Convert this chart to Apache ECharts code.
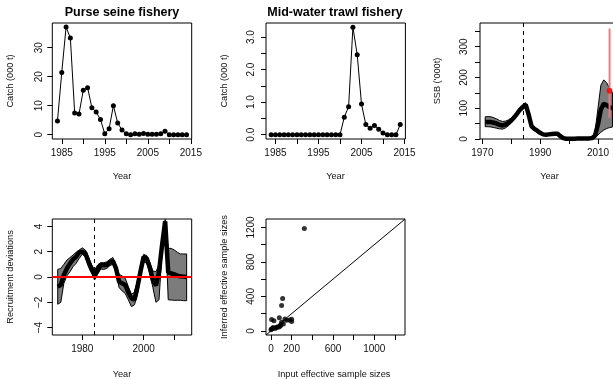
<!DOCTYPE html>
<html><head><meta charset="utf-8">
<script src="https://cdn.jsdelivr.net/npm/echarts@6/dist/echarts.min.js"></script>
<style>html,body{margin:0;padding:0;background:#fff}#c{width:613px;height:379px}</style>
</head><body><div id="c"></div>
<script>
// ---------- data ----------
const catchYears = [1984,1985,1986,1987,1988,1989,1990,1991,1992,1993,1994,1995,1996,1997,1998,1999,2000,2001,2002,2003,2004,2005,2006,2007,2008,2009,2010,2011,2012,2013,2014];
const purseSeine = [4.7,21.4,37.1,33.3,7.5,7.1,15.3,16.2,9.3,7.8,5.2,0.3,2.0,10.0,4.0,1.6,0.3,0.0,0.3,0.1,0.4,0.1,0.1,0.1,0.3,1.2,0,0,0,0,0];
const midWater = [0,0,0,0,0,0,0,0,0,0,0,0,0,0,0,0,0,0.54,0.86,3.30,2.46,0.94,0.31,0.20,0.28,0.17,0.05,0,0,0,0.31];

const ssbYears = [1971,1972,1973,1974,1975,1976,1977,1978,1979,1980,1981,1982,1983,1984,1985,1986,1987,1988,1989,1990,1991,1992,1993,1994,1995,1996,1997,1998,1999,2000,2001,2002,2003,2004,2005,2006,2007,2008,2009,2010,2011,2012,2013,2014,2015];
const ssbMed = [55,55,55,53,50,46,44,47,52,60,70,82,95,104,112,80,42,33,27,20,15,14,15,16,17,17,9,3,1,1,1,1,2,2,2,2,2,3,11,48,96,115,110,103,100];
const ssbLo  = [40,40,39,37,35,33,32,36,43,52,63,76,89,99,107,76,39,30,24,18,13,12,13,14,15,15,7,2,0.5,0.5,0.5,0.5,1,1,1,1,1,1.5,5,13,22,29,34,37,39];
const ssbHi  = [72,73,72,69,65,60,57,58,62,68,78,89,101,110,118,85,46,36,30,22,17,16,17,18,19,19,11,4,2,2,2,2,3,3,3,3,3,6,25,100,175,192,183,165,150];
const ssbRefYear = 2014, ssbRefPoint = 157, ssbRefLo = 69, ssbRefHi = 359;
const refYear = 1984;

const recYears = [1972,1973,1974,1975,1976,1977,1978,1979,1980,1981,1982,1983,1984,1985,1986,1987,1988,1989,1990,1991,1992,1993,1994,1995,1996,1997,1998,1999,2000,2001,2002,2003,2004,2005,2006,2007,2008,2009,2010,2011,2012,2013,2014];
const recMed = [-0.76,-0.63,0.16,0.68,1.08,1.39,1.6,1.95,2.0,1.87,1.2,0.6,0.16,0.55,0.95,0.92,0.95,1.16,1.26,0.68,-0.37,-0.5,-0.63,-1.2,-1.68,-1.8,-0.76,0.47,1.6,1.47,0.74,-0.24,-0.68,0.42,2.53,4.4,0.37,0.29,0.21,0.1,0.05,0.03,0.0];
const recLo  = [-2.15,-2.0,-0.5,0.1,0.42,0.82,1.08,1.47,1.79,1.6,0.9,0.37,-0.24,0.21,0.63,0.6,0.68,0.9,1.0,0.37,-0.84,-1.1,-1.3,-1.8,-2.34,-2.2,-1.37,0.03,1.21,1.08,0.29,-0.84,-2.0,-1.8,2.0,4.3,-1.8,-1.82,-1.84,-1.84,-1.84,-1.87,-1.87];
const recHi  = [0.6,0.68,1.0,1.34,1.53,1.74,1.95,2.13,2.3,2.13,1.6,1.0,0.55,0.95,1.13,1.13,1.2,1.4,1.53,0.95,0.21,0.08,-0.1,-0.76,-1.37,-1.2,-0.24,0.95,1.79,1.68,1.16,0.47,0.42,0.95,3.05,4.55,2.26,2.26,2.13,1.95,1.82,1.82,1.82];

const inputN    = [323,113,103,81,6,29,135,152,200,200,103,94,77,55,23,6,0,39,90,60,15,120,180];
const inferredN = [1189,376,294,151,132,116,139,124,135,108,100,70,46,39,39,23,12,27,55,45,30,80,125];

// tick positions / labels
const yearTicks1 = [1985,1990,1995,2000,2005,2010,2015];
const yearLabels1 = [1985,1995,2005,2015];
const psTicks = [0,10,20,30];
const mwTicks = [0,0.5,1,1.5,2,2.5,3];
const mwLabels = [0,1,2,3];
const ssbXTicks = [1970,1980,1990,2000,2010];
const ssbXLabels = [1970,1990,2010];
const ssbYTicks = [0,50,100,150,200,250,300,350];
const ssbYLabels = [0,100,200,300];
const recXTicks = [1980,1990,2000,2010];
const recXLabels = [1980,2000];
const recYTicks = [-4,-2,0,2,4];
const essTicks = [0,200,400,600,800,1000,1200];
const essXLabels = [0,200,600,1000];
const essYLabels = [0,400,800,1200];

// ---------- build ----------
const FONT = '"Liberation Sans", Arial, Helvetica, sans-serif';
const TXT = '#111';
const zip = (a, b) => a.map((v, i) => [v, b[i]]);

function grid(left, top, width, height) {
  return {left, top, width, height, show: true, borderColor: '#000', borderWidth: 1,
    backgroundColor: 'transparent', containLabel: false, outerBoundsMode: 'none'};
}
function axis(gi, min, max, ticks, labels, margin, fmt, rotate) {
  return {type: 'value', gridIndex: gi, min, max, scale: false,
    splitLine: {show: false},
    axisLine: {show: false, onZero: false},
    axisTick: {show: true, inside: false, length: 5, lineStyle: {color: '#000', width: 1}, customValues: ticks},
    axisLabel: {show: true, customValues: labels, margin, rotate: rotate || 0, fontSize: 10,
      color: TXT, fontFamily: FONT, formatter: fmt || (v => String(v))}};
}
const minus = v => String(v).replace('-', '\u2212');

const T1 = 23, H1 = 116, T2 = 219, H2 = 116;

const grids = [
  grid(52.3, T1, 139.4, H1),
  grid(266, T1, 139.4, H1),
  grid(480, T1, 139.4, H1),
  grid(52.3, T2, 139.4, H2),
  grid(266, T2, 139, H2)
];
const xAxes = [
  axis(0, 1982.8, 2015.2, yearTicks1, yearLabels1, 9),
  axis(1, 1982.8, 2015.2, yearTicks1, yearLabels1, 9),
  axis(2, 1969.2, 2017.4, ssbXTicks, ssbXLabels, 9),
  axis(3, 1970.23, 2015.65, recXTicks, recXLabels, 9),
  axis(4, -48, 1297, essTicks, essXLabels, 9)
];
const yAxes = [
  axis(0, -1.5, 38.5, psTicks, psTicks, 8, null, 90),
  axis(1, -0.132, 3.432, mwTicks, mwLabels, 10, v => v.toFixed(1), 90),
  axis(2, 0, 377, ssbYTicks, ssbYLabels, 11, null, 90),
  axis(3, -4.58, 4.58, recYTicks, recYTicks, 8, minus, 90),
  axis(4, -48, 1298, essTicks, essYLabels, 10, null, 90)
];

// confidence band drawn as a polygon through the axes' own scales
function band(gi, xs, lo, hi) {
  return {type: 'custom', xAxisIndex: gi, yAxisIndex: gi, data: [[xs[0], lo[0]]], z: 2, silent: true, clip: true,
    renderItem(params, api) {
      const pts = [];
      for (let i = 0; i < xs.length; i++) pts.push(api.coord([xs[i], hi[i]]));
      for (let i = xs.length - 1; i >= 0; i--) pts.push(api.coord([xs[i], lo[i]]));
      return {type: 'polygon', shape: {points: pts},
        style: {fill: '#7c7c7c', stroke: '#000', lineWidth: 1}};
    }};
}

const series = [
  {type: 'line', xAxisIndex: 0, yAxisIndex: 0, data: zip(catchYears, purseSeine),
   symbol: 'circle', symbolSize: 5, itemStyle: {color: '#000'}, lineStyle: {color: '#000', width: 1}},
  {type: 'line', xAxisIndex: 1, yAxisIndex: 1, data: zip(catchYears, midWater),
   symbol: 'circle', symbolSize: 5, itemStyle: {color: '#000'}, lineStyle: {color: '#000', width: 1}},
  band(2, ssbYears, ssbLo, ssbHi),
  {type: 'line', xAxisIndex: 2, yAxisIndex: 2, data: zip(ssbYears, ssbMed), symbol: 'none',
   lineStyle: {color: '#000', width: 4.5}, z: 3,
   markLine: {silent: true, symbol: 'none', label: {show: false},
     lineStyle: {color: '#000', width: 1, type: [4, 4]}, data: [{xAxis: refYear}]}},
  {type: 'line', xAxisIndex: 2, yAxisIndex: 2, data: [[ssbRefYear, ssbRefLo], [ssbRefYear, ssbRefHi]],
   symbol: 'none', lineStyle: {color: '#f37b7b', width: 2}, z: 4},
  {type: 'scatter', xAxisIndex: 2, yAxisIndex: 2, data: [[ssbRefYear, ssbRefPoint]],
   symbolSize: 6, itemStyle: {color: '#ff0000'}, z: 5},
  band(3, recYears, recLo, recHi),
  {type: 'line', xAxisIndex: 3, yAxisIndex: 3, data: zip(recYears, recMed), symbol: 'none',
   lineStyle: {color: '#000', width: 4.5}, z: 3,
   markLine: {silent: true, symbol: 'none', label: {show: false},
     data: [
       {xAxis: refYear, lineStyle: {color: '#000', width: 1, type: [4, 4]}},
       {yAxis: 0, lineStyle: {color: '#ff0000', width: 2, type: 'solid'}}
     ]}},
  {type: 'line', xAxisIndex: 4, yAxisIndex: 4, data: [[-48, -48], [1298, 1298]], symbol: 'none',
   lineStyle: {color: '#000', width: 1}},
  {type: 'scatter', xAxisIndex: 4, yAxisIndex: 4, data: zip(inputN, inferredN),
   symbolSize: 5, itemStyle: {color: '#000'}}
];

const txt = (x, y, text) => ({type: 'text', x, y,
  style: {text, fill: TXT, font: '9.2px ' + FONT, textAlign: 'center', textVerticalAlign: 'middle'}});
const vtxt = (x, y, text) => ({type: 'text', x, y, rotation: Math.PI / 2,
  style: {text, fill: TXT, font: '9.2px ' + FONT, textAlign: 'center', textVerticalAlign: 'middle'}});

const graphic = [
  {type: 'text', x: 122, y: 13, style: {text: 'Purse seine fishery', fill: '#000', font: 'bold 12.5px ' + FONT, textAlign: 'center', textVerticalAlign: 'middle'}},
  {type: 'text', x: 335, y: 13, style: {text: 'Mid-water trawl fishery', fill: '#000', font: 'bold 12.5px ' + FONT, textAlign: 'center', textVerticalAlign: 'middle'}},
  vtxt(10, 81, 'Catch (000 t)'),
  vtxt(224, 81, 'Catch (000 t)'),
  vtxt(437.5, 81, "SSB ('000t)"),
  vtxt(10, 277, 'Recruitment deviations'),
  vtxt(224, 277, 'Inferred effective sample sizes'),
  txt(122, 176, 'Year'),
  txt(335.5, 176, 'Year'),
  txt(549.5, 176, 'Year'),
  txt(122, 374.5, 'Year'),
  txt(334, 374.5, 'Input effective sample sizes')
];

const chart = echarts.init(document.getElementById('c'), null, {renderer: 'canvas'});
chart.setOption({
  animation: false,
  backgroundColor: '#fff',
  textStyle: {fontFamily: FONT},
  grid: grids, xAxis: xAxes, yAxis: yAxes, series, graphic
});
</script></body></html>
